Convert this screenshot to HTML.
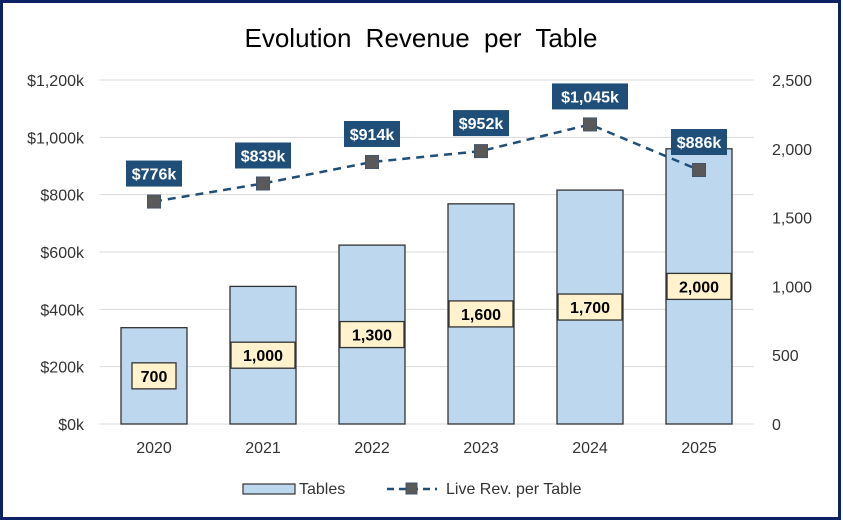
<!DOCTYPE html>
<html><head><meta charset="utf-8"><style>
body{margin:0;background:#fff;font-family:"Liberation Sans",Arial,sans-serif}
svg{display:block}
</style></head><body>
<svg id="chart" width="843" height="521" xmlns="http://www.w3.org/2000/svg">
<rect x="1.5" y="1.5" width="838" height="517" fill="#fff" stroke="#0b2266" stroke-width="3"/>
<text x="421" y="47" text-anchor="middle" font-size="26" word-spacing="7" fill="#000">Evolution Revenue per Table</text>
<g id="grid"></g><g id="bars"></g><g id="line"></g><g id="labels"></g>
<g>
<rect x="243" y="484" width="52" height="10" fill="#bdd7ee" stroke="#333" stroke-width="1.2"/>
<text x="299" y="494" font-size="16" fill="#333">Tables</text>
<line x1="387" y1="489" x2="437" y2="489" stroke="#1f4e79" stroke-width="2.5" stroke-dasharray="7,5"/>
<rect x="406" y="483" width="11" height="11" fill="#595959" stroke="#44546a"/>
<text x="446" y="494" font-size="16" fill="#333">Live Rev. per Table</text>
</g>
</svg>
<script>
const categories=["2020","2021","2022","2023","2024","2025"];
const tables=[700,1000,1300,1600,1700,2000];
const revenue=[776,839,914,952,1045,886];
const leftTicks=[0,200,400,600,800,1000,1200];
const rightTicks=[0,500,1000,1500,2000,2500];
const NS="http://www.w3.org/2000/svg";
const y0=424,y1=80,xL=99.5,step=109;
const yL=v=>y0-(v/1200)*(y0-y1);
const yR=v=>y0-(v/2500)*(y0-y1);
const xC=i=>xL+step*(i+0.5);
const fmtK=v=>'$'+v.toLocaleString('en-US')+'k';
function mk(tag,attrs,parent,text){const e=document.createElementNS(NS,tag);for(const k in attrs)e.setAttribute(k,attrs[k]);if(text!==undefined)e.textContent=text;parent.appendChild(e);return e;}
const grid=document.getElementById('grid'),bars=document.getElementById('bars'),line=document.getElementById('line'),labels=document.getElementById('labels');
leftTicks.forEach(v=>{
 const g=mk('line',{x1:xL,x2:xL+step*6,y1:yL(v),y2:yL(v),stroke:'#d9d9d9','stroke-width':1},grid);
 
 
 const t=mk('text',{x:84,y:yL(v)+6,'text-anchor':'end','font-size':16,fill:'#333'},grid,fmtK(v));
 
 
});
rightTicks.forEach(v=>{
 const t=mk('text',{x:772,y:yR(v)+6,'font-size':16,fill:'#333'},grid,v.toLocaleString('en-US'));
 
 
});
categories.forEach((c,i)=>{
 const t=mk('text',{x:xC(i),y:453,'text-anchor':'middle','font-size':16,fill:'#333'},grid,c);
 
 
 const b=mk('rect',{x:xC(i)-33,y:yR(tables[i]),width:66,height:y0-yR(tables[i]),fill:'#bdd7ee',stroke:'#333','stroke-width':1.3},bars);
 
 
 const my=(yR(tables[i])+y0)/2;
 const txt=tables[i].toLocaleString('en-US');const w=txt.length*10+14;
 const lb=mk('rect',{x:xC(i)-w/2,y:my-13,width:w,height:26,fill:'#fff2cc',stroke:'#333','stroke-width':1.3},labels);
 
 
 const lt=mk('text',{x:xC(i),y:my+6,'text-anchor':'middle','font-size':16,'font-weight':'bold',fill:'#000'},labels,txt);
 
 
});
const pts=revenue.map((v,i)=>xC(i)+','+yL(v)).join(' ');
const pl=mk('polyline',{points:pts,fill:'none',stroke:'#1f4e79','stroke-width':2.5,'stroke-dasharray':'8,6'},line);


revenue.forEach((v,i)=>{
 const m=mk('rect',{x:xC(i)-6.5,y:yL(v)-6.5,width:13,height:13,fill:'#595959',stroke:'#44546a'},line);
 
 
 const txt=fmtK(v);
 const w=txt.length*10+6;const cy=yL(v)-28;
 const b=mk('rect',{x:xC(i)-w/2,y:cy-13,width:w,height:26,fill:'#1f4e79'},labels);
 
 
 const t=mk('text',{x:xC(i),y:cy+6,'text-anchor':'middle','font-size':16,'font-weight':'bold',fill:'#fff'},labels,txt);
 
 
});
</script>
</body></html>
